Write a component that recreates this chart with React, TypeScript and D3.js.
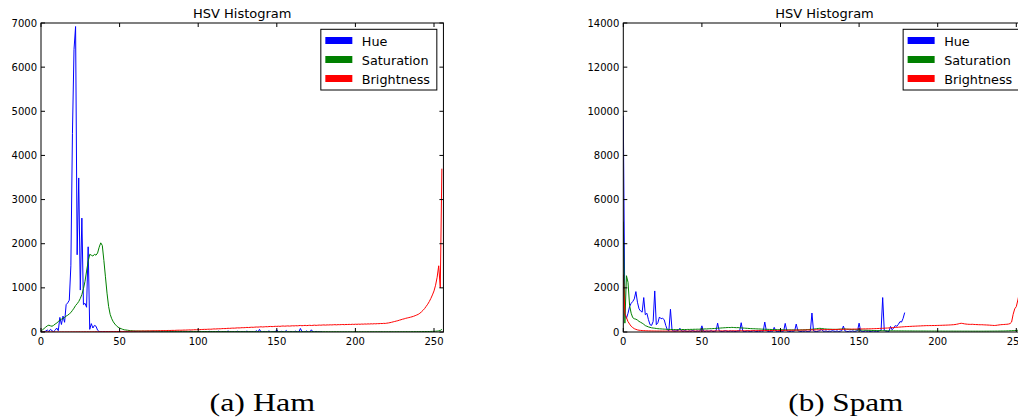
import React from "react";
import * as d3 from "d3";

// ---------- DATA ----------
const xTicks = [0, 50, 100, 150, 200, 250];
const hamYTicks = [0, 1000, 2000, 3000, 4000, 5000, 6000, 7000];
const spamYTicks = [0, 2000, 4000, 6000, 8000, 10000, 12000, 14000];
const seriesNames = ["Hue", "Saturation", "Brightness"];
const seriesColors = ["#0000ff", "#008000", "#ff0000"];
const captions = ["(a) Ham", "(b) Spam"];

const hamHue = [
  0, 0, 5, 20, 45, 10, 60, 30, 5, 40, 90, 30, 330, 170, 360, 220,
  620, 660, 720, 1500, 4500, 6400, 6920, 1750, 3490, 950, 2580, 620, 650, 560, 1930, 60,
  190, 90, 150, 130, 40, 10, 5, 0, 8, 0, 3, 0, 0, 6, 0, 2,
  0, 0, 4, 0, 0, 2, 0, 10, 0, 0, 3, 0, 12, 0, 0, 5,
  0, 0, 8, 0, 2, 0, 0, 14, 0, 0, 4, 0, 0, 9, 0, 0,
  3, 0, 0, 15, 0, 0, 5, 0, 0, 12, 0, 0, 6, 0, 0, 18,
  0, 0, 4, 0, 0, 10, 0, 0, 7, 0, 0, 16, 0, 0, 5, 0,
  0, 20, 0, 0, 8, 0, 0, 25, 0, 0, 6, 0, 0, 18, 0, 0,
  10, 0, 0, 22, 0, 0, 8, 0, 0, 30, 0, 60, 0, 0, 12, 0,
  0, 25, 0, 0, 10, 0, 50, 0, 0, 15, 0, 0, 35, 0, 0, 12,
  0, 0, 20, 0, 0, 80, 10, 0, 0, 25, 0, 0, 50, 0, 0, 15,
  0, 5, 0, 0,
];

const hamSat = [
  20, 50, 80, 110, 140, 155, 140, 130, 150, 180, 200, 240, 270, 290, 310, 330,
  360, 380, 410, 440, 490, 540, 600, 640, 690, 760, 850, 980, 1150, 1380, 1600, 1760,
  1740, 1720, 1760, 1740, 1790, 1920, 2020, 1960, 1620, 1250, 880, 580, 400, 300, 230, 180,
  140, 110, 90, 75, 60, 50, 45, 40, 35, 30, 28, 25, 24, 22, 23, 21,
  20, 22, 19, 20, 21, 18, 19, 20, 18, 17, 19, 18, 16, 17, 18, 16,
  15, 17, 16, 15, 16, 14, 15, 16, 14, 13, 15, 14, 13, 14, 12, 13,
  14, 12, 13, 12, 11, 13, 12, 11, 12, 10, 11, 12, 10, 11, 10, 9,
  11, 10, 9, 10, 11, 9, 10, 9, 8, 10, 9, 8, 9, 10, 8, 9,
  8, 9, 8, 7, 9, 8, 7, 8, 9, 7, 8, 7, 8, 7, 6, 8,
  7, 8, 6, 7, 8, 7, 6, 7, 8, 6, 7, 6, 7, 8, 6, 7,
  6, 7, 6, 5, 7, 6, 7, 5, 6, 7, 6, 5, 6, 7, 5, 6,
  6, 5, 6, 5, 6, 5, 7, 5, 6, 5, 6, 5, 5, 6, 5, 6,
  5, 6, 5, 5, 6, 5, 4, 5, 6, 5, 4, 5, 5, 6, 4, 5,
  5, 4, 5, 6, 4, 5, 5, 4, 6, 5, 4, 5, 5, 4, 5, 6,
  4, 5, 5, 6, 5, 4, 6, 5, 6, 7, 5, 6, 7, 6, 8, 7,
  8, 9, 8, 10, 9, 11, 12, 11, 13, 14, 15, 17, 20, 25, 35, 60,
];

const hamBright = [
  0, 0, 1, 0, 1, 1, 0, 1, 2, 1, 1, 2, 1, 2, 2, 1,
  2, 3, 2, 2, 3, 2, 3, 3, 4, 3, 3, 4, 4, 3, 5, 4,
  5, 4, 5, 6, 5, 6, 7, 6, 8, 7, 8, 9, 8, 10, 9, 10,
  11, 12, 11, 13, 12, 14, 13, 15, 16, 15, 17, 18, 17, 19, 20, 19,
  21, 22, 21, 23, 24, 25, 24, 26, 27, 28, 27, 30, 29, 31, 32, 31,
  33, 35, 34, 36, 37, 36, 39, 40, 41, 40, 42, 44, 43, 46, 47, 48,
  47, 50, 52, 51, 55, 54, 57, 58, 60, 59, 62, 64, 63, 66, 70, 68,
  71, 73, 72, 76, 78, 77, 80, 84, 82, 86, 88, 87, 90, 94, 92, 95,
  98, 97, 100, 104, 101, 105, 108, 106, 110, 113, 111, 115, 118, 114, 117, 121,
  119, 123, 126, 122, 125, 129, 127, 131, 128, 133, 136, 132, 135, 138, 134, 137,
  141, 138, 143, 140, 144, 148, 142, 146, 150, 145, 149, 152, 147, 151, 155, 150,
  153, 157, 154, 158, 160, 156, 161, 159, 163, 160, 164, 166, 162, 167, 165, 168,
  170, 166, 171, 169, 173, 170, 175, 172, 176, 174, 178, 175, 180, 177, 182, 179,
  184, 181, 186, 183, 188, 185, 190, 188, 193, 191, 196, 194, 200, 205, 212, 220,
  230, 238, 248, 256, 268, 278, 290, 298, 310, 318, 326, 335, 345, 356, 370, 385,
  400, 425, 455, 490, 530, 580, 630, 690, 760, 840, 930, 1060, 1240, 1500, 1000, 3700,
];

const spamHue = [
  9800, 800, 620, 850, 1150, 1300, 1380, 1500, 1830, 1350, 1050, 950, 900, 1560, 780, 850,
  560, 330, 300, 480, 1860, 330, 420, 680, 600, 620, 560, 300, 100, 60, 1030, 90,
  50, 40, 60, 70, 170, 50, 30, 60, 40, 20, 50, 30, 70, 40, 20, 50,
  30, 60, 280, 40, 20, 50, 30, 40, 60, 20, 30, 50, 400, 50, 30, 20,
  40, 60, 30, 20, 50, 30, 40, 20, 30, 50, 40, 420, 40, 20, 30, 50,
  30, 20, 40, 60, 30, 20, 40, 30, 50, 30, 450, 60, 30, 20, 40, 30,
  210, 40, 20, 30, 50, 30, 40, 390, 50, 30, 20, 40, 30, 50, 360, 60,
  30, 20, 40, 30, 50, 20, 30, 40, 860, 50, 30, 20, 40, 60, 120, 40,
  30, 50, 20, 40, 30, 60, 40, 30, 50, 20, 40, 60, 270, 50, 30, 20,
  40, 30, 50, 20, 40, 60, 400, 40, 30, 20, 50, 30, 40, 20, 30, 50,
  30, 40, 20, 60, 80, 1560, 80, 40, 30, 20, 250, 100, 180, 290, 260, 350,
  470, 450, 620, 880,
];

const spamSat = [
  5000, 400, 2550, 2250, 1200, 850, 650, 600, 580, 540, 480, 440, 400, 350, 290, 260,
  230, 210, 190, 180, 170, 160, 150, 145, 140, 135, 130, 125, 120, 118, 115, 112,
  110, 108, 112, 105, 110, 108, 115, 110, 112, 118, 115, 120, 118, 125, 122, 128,
  125, 130, 135, 132, 140, 138, 145, 150, 148, 155, 160, 165, 170, 175, 180, 185,
  190, 195, 200, 205, 200, 210, 205, 200, 195, 200, 190, 185, 180, 175, 170, 165,
  160, 155, 150, 148, 145, 140, 138, 135, 130, 128, 125, 122, 120, 118, 115, 112,
  110, 108, 105, 103, 100, 102, 98, 100, 96, 98, 95, 97, 94, 96, 92, 95,
  93, 96, 98, 100, 105, 110, 115, 120, 125, 130, 140, 150, 160, 165, 160, 150,
  140, 135, 130, 128, 125, 122, 120, 118, 120, 125, 130, 135, 140, 138, 130, 125,
  120, 115, 110, 105, 100, 96, 92, 88, 85, 82, 80, 78, 75, 73, 70, 68,
  66, 65, 63, 62, 60, 60, 58, 57, 56, 55, 55, 54, 53, 52, 52, 51,
  50, 50, 49, 49, 48, 48, 47, 47, 46, 46, 45, 46, 45, 45, 44, 45,
  44, 44, 43, 44, 43, 42, 43, 42, 42, 41, 42, 41, 41, 40, 41, 40,
  40, 41, 40, 39, 40, 39, 40, 39, 38, 39, 38, 39, 38, 38, 37, 38,
  37, 38, 37, 37, 38, 37, 38, 39, 38, 40, 39, 41, 40, 42, 41, 43,
  44, 45, 46, 48, 50, 52, 55, 58, 62, 66, 70, 78, 85, 95, 110, 130,
];

const spamBright = [
  2600, 850, 650, 470, 360, 260, 200, 150, 120, 95, 80, 72, 66, 62, 58, 55,
  52, 50, 48, 47, 46, 45, 44, 44, 43, 43, 42, 42, 43, 42, 41, 42,
  41, 42, 41, 40, 41, 40, 42, 41, 40, 41, 42, 40, 41, 42, 43, 42,
  43, 42, 44, 43, 45, 44, 46, 45, 47, 46, 48, 47, 49, 48, 50, 49,
  51, 50, 52, 51, 53, 52, 54, 53, 55, 54, 56, 55, 57, 58, 57, 59,
  58, 60, 59, 61, 62, 61, 63, 64, 63, 65, 66, 65, 67, 68, 67, 69,
  70, 69, 71, 72, 71, 73, 75, 74, 76, 78, 77, 79, 81, 80, 83, 85,
  84, 87, 89, 88, 91, 93, 92, 95, 97, 96, 99, 101, 100, 103, 105, 104,
  107, 109, 108, 111, 113, 112, 115, 117, 116, 119, 121, 120, 123, 125, 124, 127,
  129, 128, 131, 133, 132, 135, 137, 136, 139, 141, 140, 143, 145, 144, 147, 150,
  152, 155, 158, 162, 165, 168, 172, 176, 180, 185, 190, 195, 200, 206, 212, 218,
  224, 230, 235, 240, 245, 248, 252, 256, 260, 263, 266, 270, 273, 276, 280, 283,
  286, 290, 288, 292, 290, 294, 292, 296, 298, 300, 302, 305, 308, 310, 313, 316,
  320, 325, 330, 338, 350, 365, 385, 395, 385, 370, 360, 352, 348, 345, 350, 342,
  338, 335, 332, 328, 330, 325, 322, 318, 315, 310, 305, 300, 295, 300, 310, 320,
  330, 335, 340, 345, 350, 360, 380, 450, 800, 1050, 1150, 1450, 1800, 2400, 3200, 5000,
];

// ---------- LAYOUT ----------
const W = 1018;
const H = 418;
const FONT = "'DejaVu Sans', sans-serif";

type PanelProps = {
  id: string;
  left: number;
  yMax: number;
  yTicks: number[];
  series: number[][];
  caption: string;
  captionX: number;
  captionLen: number;
};

function Panel({ id, left, yMax, yTicks, series, caption, captionX, captionLen }: PanelProps) {
  const top = 23;
  const bottom = 332;
  const pxPerUnit = 1.572;
  const right = left + 256 * pxPerUnit;
  const x = d3.scaleLinear().domain([0, 256]).range([left, right]);
  const y = d3.scaleLinear().domain([0, yMax]).range([bottom, top]);
  const line = d3
    .line<number>()
    .x((_, i) => x(i))
    .y((d) => y(d));
  const tickLen = 4;
  const legR = right - 6.6;
  const legL = legR - 116;
  return (
    <g>
      <defs>
        <clipPath id={`clip-${id}`}>
          <rect x={left} y={top} width={right - left} height={bottom - top} />
        </clipPath>
      </defs>
      <text x={(left + right) / 2} y={18.3} textAnchor="middle" fontFamily={FONT} fontSize={13} fill="#000">
        HSV Histogram
      </text>
      <g clipPath={`url(#clip-${id})`}>
        {series.map((s, k) => (
          <path key={k} d={line(s) || ""} fill="none" stroke={seriesColors[k]} strokeWidth={1} strokeLinejoin="round" />
        ))}
      </g>
      {/* spines */}
      <rect x={left} y={top} width={right - left} height={bottom - top} fill="none" stroke="#000" strokeWidth={1} />
      {/* x ticks */}
      {xTicks.map((t) => (
        <g key={`x${t}`}>
          <line x1={x(t)} x2={x(t)} y1={bottom} y2={bottom - tickLen} stroke="#000" />
          <line x1={x(t)} x2={x(t)} y1={top} y2={top + tickLen} stroke="#000" />
          <text x={x(t)} y={345} textAnchor="middle" fontFamily={FONT} fontSize={10} fill="#000">
            {t}
          </text>
        </g>
      ))}
      {yTicks.map((t) => (
        <g key={`y${t}`}>
          <line x1={left} x2={left + tickLen} y1={y(t)} y2={y(t)} stroke="#000" />
          <line x1={right} x2={right - tickLen} y1={y(t)} y2={y(t)} stroke="#000" />
          <text x={left - 4} y={y(t) + 3.6} textAnchor="end" fontFamily={FONT} fontSize={10} fill="#000">
            {t}
          </text>
        </g>
      ))}
      {/* legend */}
      <rect x={legL} y={29.3} width={legR - legL} height={60.7} fill="#fff" stroke="#000" strokeWidth={1} />
      {seriesNames.map((n, k) => (
        <g key={n}>
          <rect x={legL + 4.5} y={45.5 + k * 19 - 8.5} width={27} height={7} fill={seriesColors[k]} />
          <text x={legL + 41} y={45.5 + k * 19} fontFamily={FONT} fontSize={12.8} fill="#000">
            {n}
          </text>
        </g>
      ))}
      <text
        x={captionX}
        y={411}
        fontFamily="'Liberation Serif', 'DejaVu Serif', serif"
        fontSize={25}
        textLength={captionLen}
        lengthAdjust="spacingAndGlyphs"
        fill="#000"
      >
        {caption}
      </text>
    </g>
  );
}

export default function App() {
  return (
    <svg
      width={W}
      height={H}
      viewBox={`0 0 ${W} ${H}`}
      style={{ position: "absolute", left: 0, top: 0, background: "#fff", overflow: "hidden" }}
    >
      <rect x={0} y={0} width={W} height={H} fill="#fff" />
      <Panel
        id="ham"
        left={41}
        yMax={7000}
        yTicks={hamYTicks}
        series={[hamHue, hamSat, hamBright]}
        caption={captions[0]}
        captionX={209.5}
        captionLen={105.5}
      />
      <Panel
        id="spam"
        left={623.3}
        yMax={14000}
        yTicks={spamYTicks}
        series={[spamHue, spamSat, spamBright]}
        caption={captions[1]}
        captionX={788.3}
        captionLen={115}
      />
    </svg>
  );
}
